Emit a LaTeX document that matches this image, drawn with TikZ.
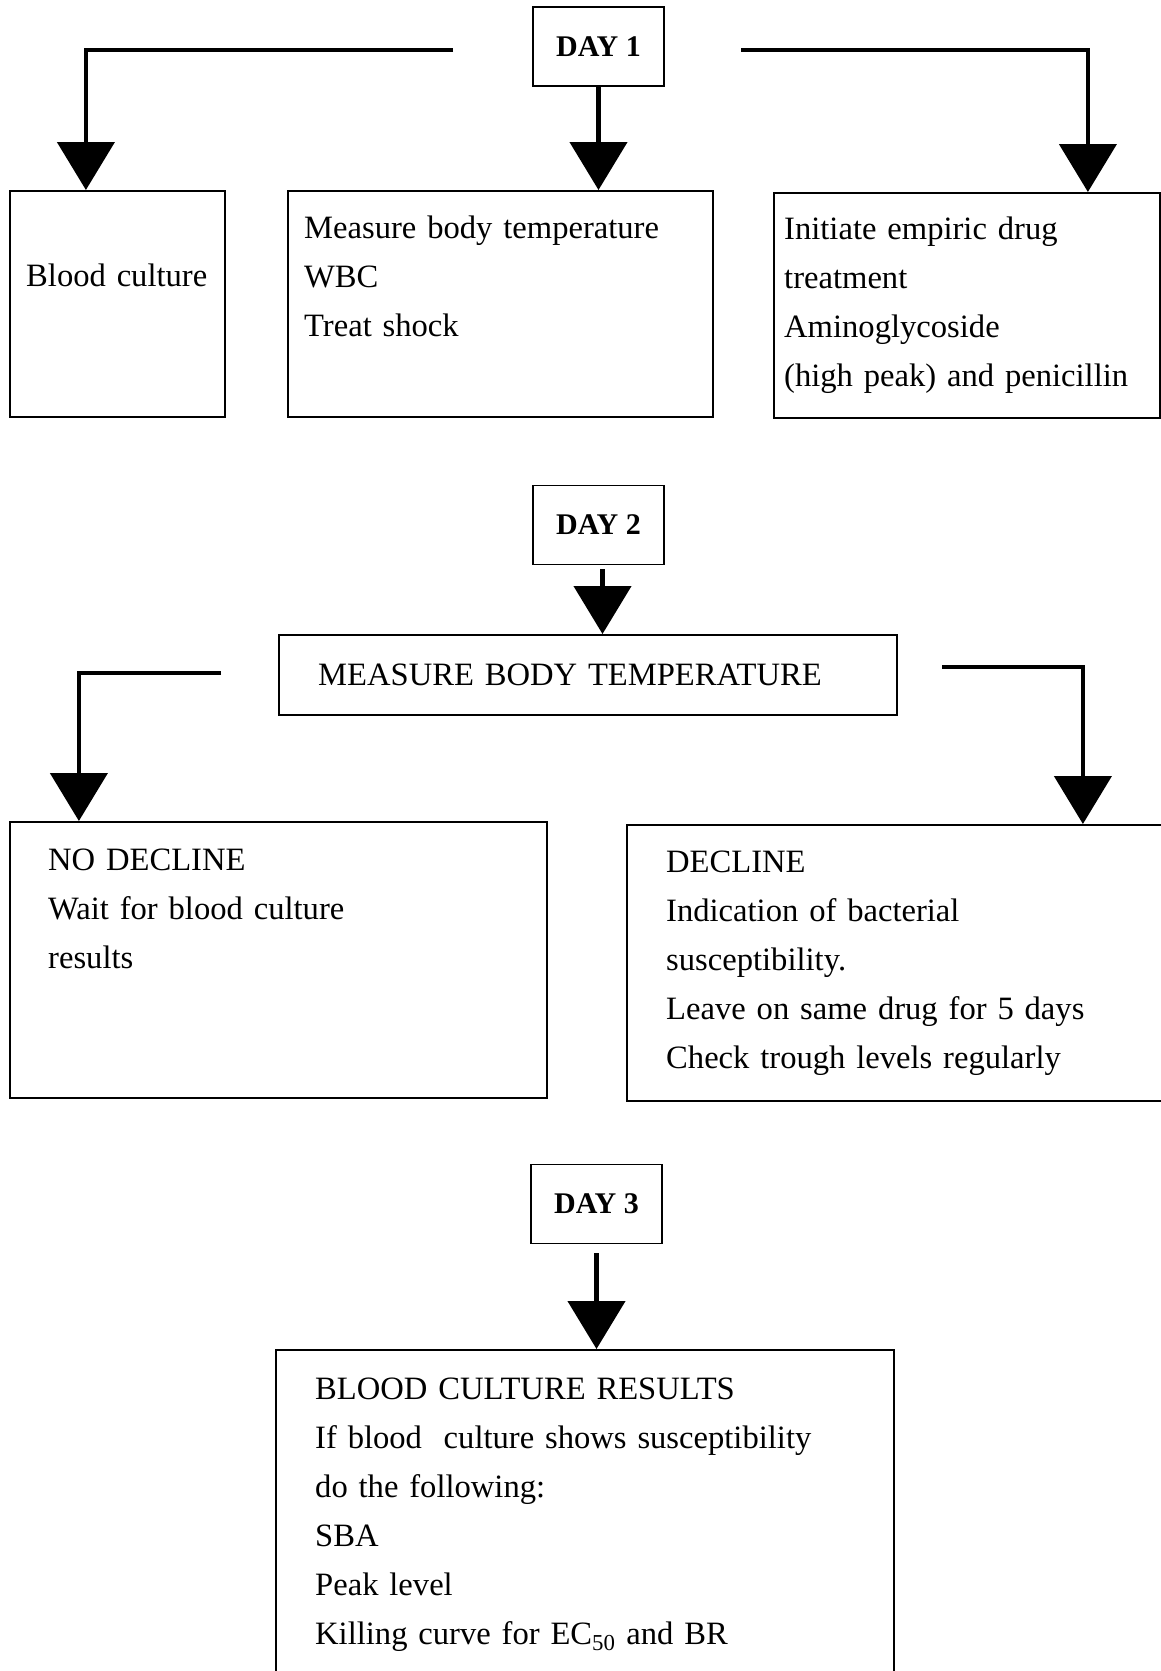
\documentclass[tikz,border=0pt]{standalone}
\usepackage{fontspec}
\setmainfont{Liberation Serif}
\usetikzlibrary{arrows.meta}
\begin{document}
\begin{tikzpicture}[x=1pt,y=-1pt,
  box/.style={draw, line width=1.8pt, inner sep=0pt, anchor=north west},
  daybox/.style={draw, line width=1.8pt, inner sep=0pt, minimum width=131pt, minimum height=79pt, font=\bfseries\fontsize{30}{30}\selectfont},
  txt/.style={anchor=base west, align=left, text width=700pt, inner sep=0pt, font=\fontsize{32.6}{49}\selectfont},
  conn/.style={line width=4.5pt, -{Triangle[length=48pt,width=57pt]}}]
\useasboundingbox (0,0) rectangle (1161,1671);
\fill[white] (0,0) rectangle (1161,1671);
\clip (0,0) rectangle (1161,1671);

% DAY 1
\node[daybox] (day1) at (598.5,46.5) {DAY 1};
\node[box, minimum width=215pt, minimum height=226pt] (bc) at (9,190) {};
\node[box, minimum width=425pt, minimum height=226pt] (m1) at (287,190) {};
\node[box, minimum width=386pt, minimum height=225pt] (init) at (773,192) {};
\node[txt] (bct) at (26,286) {Blood culture};
\node[txt] (m1t) at (304,238) {Measure body temperature\\WBC\\Treat shock};
\node[txt] (initt) at (784,239) {Initiate empiric drug\\treatment\\Aminoglycoside\\(high peak) and penicillin};
\coordinate (d1L) at (453,50);
\coordinate (d1R) at (741,50);
\draw[conn] (d1L) -| ([xshift=-31.5pt]bc.north);
\draw[conn] (day1.south) -- (day1.south |- m1.north);
\draw[conn] (d1R) -| ([xshift=121pt]init.north);

% DAY 2
\node[daybox] (day2) at (598.5,525) {DAY 2};
\node[box, minimum width=618pt, minimum height=80pt] (m2) at (278,634) {};
\node[txt] (m2t) at (318,685) {MEASURE BODY TEMPERATURE};
\node[box, minimum width=537pt, minimum height=276pt] (nod) at (9,821) {};
\node[box, minimum width=544pt, minimum height=276pt] (dec) at (626,824) {};
\node[txt] (nodt) at (48,870) {NO DECLINE\\Wait for blood culture\\results};
\node[txt] (dect) at (666,872) {DECLINE\\Indication of bacterial\\susceptibility.\\Leave on same drug for 5 days\\Check trough levels regularly};
\coordinate (d2L) at (221,673);
\coordinate (d2R) at (942,667);
\draw[conn, shorten <=4pt] ([xshift=4pt]day2.south) -- ([xshift=4pt]day2.south |- m2.north);
\draw[conn] (d2L) -| ([xshift=-199.5pt]nod.north);
\draw[conn] (d2R) -| ([xshift=184pt]dec.north);

% DAY 3
\node[daybox] (day3) at (596.5,1204) {DAY 3};
\node[box, minimum width=618pt, minimum height=340pt] (res) at (275,1349) {};
\node[txt] (rest) at (315,1399) {BLOOD CULTURE RESULTS\\If blood~ culture shows susceptibility\\do the following:\\SBA\\Peak level\\Killing curve for EC\textsubscript{50} and BR};
\draw[conn, shorten <=9pt] (day3.south) -- (day3.south |- res.north);
\end{tikzpicture}
\end{document}
